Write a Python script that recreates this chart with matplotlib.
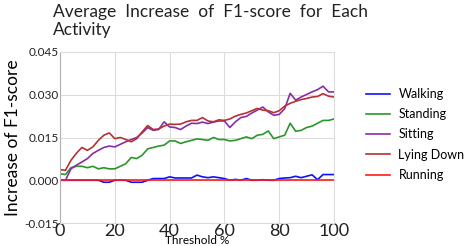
import matplotlib
matplotlib.use('Agg')
from matplotlib import pyplot as plt
import numpy as np

plt.rcParams['font.family'] = ['Lato', 'DejaVu Sans']

threshold = list(range(0, 101, 2))

walking = [0, 0, 0, 0, 0, 0, 0, 0, -0.0007, -0.0007,
           0, 0, 0, -0.0007, -0.0007, -0.0007, 0, 0.0006, 0.0006, 0.0006,
           0.0012, 0.0008, 0.0008, 0.0008, 0.0008, 0.0018, 0.0012, 0.0009, 0.0012, 0.0009,
           0.0006, 0.0, 0.0003, 0.0, 0.0006, 0.0, 0.0, 0.0002, 0.0, 0.0,
           0.0006, 0.0008, 0.0009, 0.0014, 0.0009, 0.0014, 0.0019, 0.0002, 0.0020, 0.0020,
           0.0020]
standing = [0.0023, 0.0020, 0.0044, 0.0049, 0.0049, 0.0044, 0.0049, 0.0040, 0.0044, 0.0040,
            0.0040, 0.0049, 0.0058, 0.0080, 0.0076, 0.0088, 0.0110, 0.0115, 0.0120, 0.0123,
            0.0138, 0.0138, 0.0129, 0.0135, 0.0140, 0.0145, 0.0143, 0.0140, 0.0150, 0.0143,
            0.0143, 0.0138, 0.0140, 0.0146, 0.0152, 0.0146, 0.0158, 0.0161, 0.0173, 0.0146,
            0.0152, 0.0158, 0.0200, 0.0172, 0.0175, 0.0185, 0.0190, 0.0200, 0.0210, 0.0210,
            0.0215]
sitting = [0.0, 0.0, 0.0040, 0.0053, 0.0064, 0.0076, 0.0094, 0.0105, 0.0115, 0.0120,
           0.0117, 0.0126, 0.0135, 0.0143, 0.0150, 0.0166, 0.0185, 0.0175, 0.0178, 0.0205,
           0.0187, 0.0185, 0.0178, 0.0190, 0.0200, 0.0199, 0.0204, 0.0199, 0.0204, 0.0208,
           0.0208, 0.0185, 0.0205, 0.0220, 0.0224, 0.0236, 0.0246, 0.0257, 0.0240, 0.0228,
           0.0231, 0.0251, 0.0305, 0.0281, 0.0292, 0.0301, 0.0310, 0.0318, 0.0330, 0.0310,
           0.0310]
lying_down = [0.0037, 0.0035, 0.0070, 0.0095, 0.0115, 0.0105, 0.0117, 0.0140, 0.0158, 0.0166,
              0.0146, 0.0150, 0.0143, 0.0135, 0.0146, 0.0170, 0.0192, 0.0178, 0.0180, 0.0190,
              0.0197, 0.0196, 0.0197, 0.0205, 0.0210, 0.0210, 0.0220, 0.0208, 0.0205, 0.0212,
              0.0210, 0.0215, 0.0225, 0.0231, 0.0236, 0.0244, 0.0252, 0.0246, 0.0244, 0.0237,
              0.0244, 0.0260, 0.0270, 0.0277, 0.0283, 0.0287, 0.0292, 0.0294, 0.0304, 0.0295,
              0.0292]
running = [0.0] * len(threshold)

series = [('Walking', walking, '#1010ff'),
          ('Standing', standing, '#2a962a'),
          ('Sitting', sitting, '#8a2ca8'),
          ('Lying Down', lying_down, '#b43232'),
          ('Running', running, '#ff1a1a')]

fig = plt.figure(figsize=(4.66, 2.46), dpi=100)
ax = fig.add_axes([60 / 466, 23 / 246, 274 / 466, 171 / 246])

for name, vals, col in series:
    ax.plot(threshold, vals, color=col, linewidth=1.2, label=name)

ax.set_xlim(0, 100)
ax.set_ylim(-0.015, 0.045)
ax.set_xticks([0, 20, 40, 60, 80, 100])
ax.set_yticks([-0.015, 0.000, 0.015, 0.030, 0.045])
ax.set_yticklabels(['-0.015', '0.000', '0.015', '0.030', '0.045'])
ax.grid(True, color='#dcdcdc', linewidth=0.8)
ax.set_axisbelow(True)
for s in ax.spines.values():
    s.set_color('#dcdcdc')
ax.spines['left'].set_color('#b0b0b0')
ax.tick_params(axis='both', length=0, colors='#222222')
ax.tick_params(axis='x', labelsize=13, pad=0)
ax.tick_params(axis='y', labelsize=8.5, pad=1)

ax.set_xlabel('Threshold %', fontsize=8.5, labelpad=-3)
ax.set_ylabel('Increase of F1-score', fontsize=12.5, labelpad=2)

fig.text(53 / 466, 1 - 4 / 246, 'Average  Increase  of  F1-score  for  Each\nActivity',
         fontsize=12.5, va='top', ha='left', linespacing=1.15, color='#222222')

ax.legend(loc='upper left', bbox_to_anchor=(366 / 466, 1 - 88 / 246),
          bbox_transform=fig.transFigure, frameon=False, fontsize=9,
          handlelength=1.9, handletextpad=0.7, labelspacing=0.66,
          borderpad=0, borderaxespad=0)

fig.savefig('out.png', dpi=100)
